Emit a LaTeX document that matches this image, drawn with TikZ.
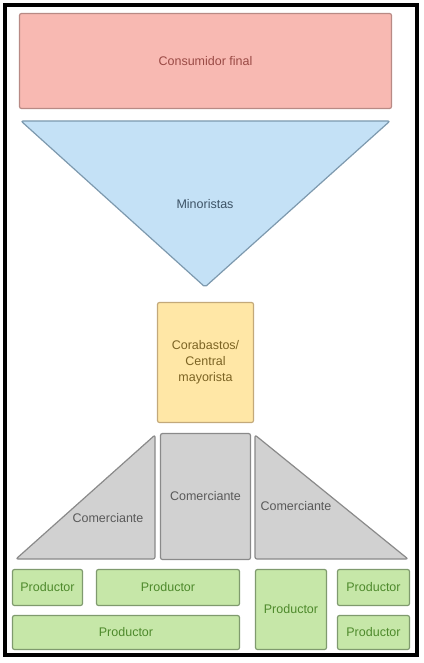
\documentclass[tikz,border=0pt]{standalone}
\usepackage{fontspec}
\setmainfont{Liberation Sans}
\definecolor{rojoF}{HTML}{F8B9B2}
\definecolor{rojoB}{HTML}{B88A85}
\definecolor{rojoT}{HTML}{9A4A45}
\definecolor{azulF}{HTML}{C4E1F6}
\definecolor{azulB}{HTML}{7D99AE}
\definecolor{azulT}{HTML}{3D5366}
\definecolor{amaF}{HTML}{FFE7A6}
\definecolor{amaB}{HTML}{C3A97A}
\definecolor{amaT}{HTML}{7C6424}
\definecolor{grisF}{HTML}{D1D1D1}
\definecolor{grisB}{HTML}{8A8A8A}
\definecolor{grisT}{HTML}{5A5A5A}
\definecolor{verdeF}{HTML}{C6E7A8}
\definecolor{verdeB}{HTML}{7F9A6E}
\definecolor{verdeT}{HTML}{4E8A2C}
\tikzset{
  texto/.style={font=\fontsize{12.5}{16}\selectfont, align=center, inner sep=0pt},
  caja/.style={texto, draw, line width=1.2pt, rounded corners=2pt},
  prod/.style={caja, draw=verdeB, fill=verdeF, text=verdeT},
  forma/.style={line width=1.2pt, rounded corners=2pt, line join=round}
}
\begin{document}
\begin{tikzpicture}[x=1pt,y=-1pt]
                \useasboundingbox (0,0) rectangle (423,663);
                \fill [white] (0,0) rectangle (423,663);
                \draw [line width=4pt] (5,5) rectangle (417,655);
                % consumidor
                \node [caja, draw=rojoB, fill=rojoF, text=rojoT, minimum width=372pt, minimum height=95pt] (consumidor) at (205.5,61) {Consumidor final};
                % minoristas
                \draw [forma, draw=azulB, fill=azulF] (21,121)--(390,121)--(205,287)--cycle;
                \node [texto, text=azulT] (minoristas) at (205,204) {Minoristas};
                % mayorista
                \node [caja, draw=amaB, fill=amaF, text=amaT, minimum width=96pt, minimum height=120pt] (central) at (205.5,362.5) {Corabastos/\\Central\\mayorista};
                % comerciantes
                \draw [forma, draw=grisB, fill=grisF] (16,559)--(155,435)--(155,559)--cycle;
                \node [texto, text=grisT] (comercianteA) at (108,518) {Comerciante};
                \node [caja, draw=grisB, fill=grisF, text=grisT, minimum width=90pt, minimum height=126pt] (comercianteB) at (205.5,496.5) {Comerciante};
                \draw [forma, draw=grisB, fill=grisF] (255,435)--(408,559)--(255,559)--cycle;
                \node [texto, text=grisT] (comercianteC) at (296,506) {Comerciante};
                % productores
                \node [prod, minimum width=70pt, minimum height=36pt] (prodA) at (47.5,587.5) {Productor};
                \node [prod, minimum width=143pt, minimum height=36pt] (prodB) at (168,587.5) {Productor};
                \node [prod, minimum width=227pt, minimum height=34pt] (prodC) at (126,632.5) {Productor};
                \node [prod, minimum width=71pt, minimum height=80pt] (prodD) at (291,609.5) {Productor};
                \node [prod, minimum width=72pt, minimum height=36pt] (prodE) at (373.5,587.5) {Productor};
                \node [prod, minimum width=72pt, minimum height=34pt] (prodF) at (373.5,632.5) {Productor};
\end{tikzpicture}
\end{document}
